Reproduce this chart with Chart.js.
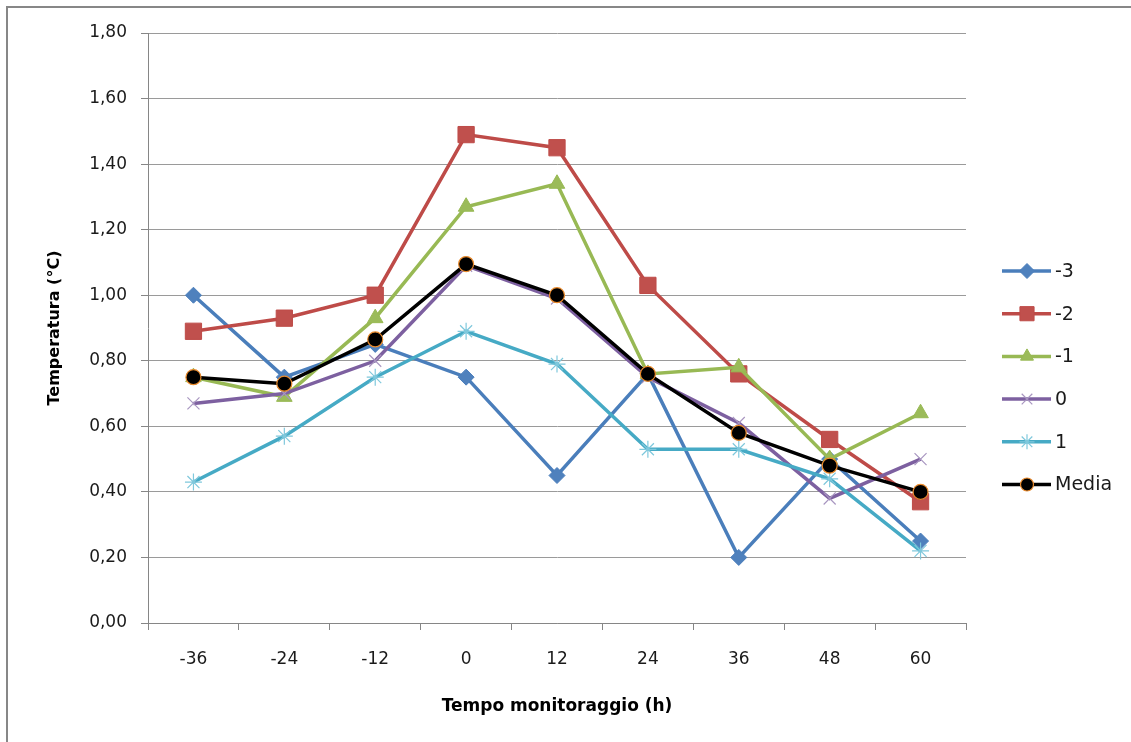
<!DOCTYPE html>
<html>
<head>
<meta charset="utf-8">
<script src="https://cdn.jsdelivr.net/npm/chart.js"></script>
<style>
  html, body { margin: 0; padding: 0; background: #fff; }
  canvas { display: block; }
</style>
</head>
<body>
<canvas id="chart" width="1131" height="742"></canvas>
<script>
// hours of monitoring (x categories)
const hours = ['-36', '-24', '-12', '0', '12', '24', '36', '48', '60'];

// temperature series (°C)
const serieM3 = [1.00, 0.75, 0.85, 0.75, 0.45, 0.76, 0.20, 0.50, 0.25];
const serieM2 = [0.89, 0.93, 1.00, 1.49, 1.45, 1.03, 0.76, 0.56, 0.37];
const serieM1 = [0.75, 0.69, 0.93, 1.27, 1.34, 0.76, 0.78, 0.50, 0.64];
const serie0  = [0.67, 0.70, 0.80, 1.09, 0.99, 0.75, 0.61, 0.38, 0.50];
const serie1  = [0.43, 0.57, 0.75, 0.89, 0.79, 0.53, 0.53, 0.44, 0.22];
const media   = [0.75, 0.73, 0.865, 1.095, 1.00, 0.76, 0.58, 0.48, 0.40];

const yTicks = [0, 0.2, 0.4, 0.6, 0.8, 1.0, 1.2, 1.4, 1.6, 1.8];

const FONT = 'DejaVu Sans';
const AXIS_GRAY = '#868686';

function series(label, data, color, style, opts) {
  return Object.assign({
    label, data,
    borderColor: color,
    backgroundColor: color,
    pointBackgroundColor: color,
    pointBorderColor: color,
    borderWidth: 3.5,
    pointStyle: style,
    pointRadius: 8,
    pointHoverRadius: 8,
    pointBorderWidth: 1,
    tension: 0,
    fill: false
  }, opts || {});
}

const datasets = [
  series('-3', serieM3, '#4A7EBB', 'rectRot', { pointRadius: 8, pointBackgroundColor: '#4F81BD', order: 6 }),
  series('-2', serieM2, '#BE4B48', 'rect', { pointRadius: 11.5, pointBackgroundColor: '#C0504D', order: 5 }),
  series('-1', serieM1, '#98B954', 'triangle', { pointRadius: 9, pointBackgroundColor: '#9BBB59', order: 4 }),
  series('0', serie0, '#7D60A0', 'crossRot', { pointRadius: 8.5, pointBorderColor: '#A896C0', pointBorderWidth: 1.2, order: 3 }),
  series('1', serie1, '#46AAC5', 'star', { pointRadius: 8.5, pointBorderColor: '#7FC8DC', pointBorderWidth: 1.2, order: 2 }),
  series('Media', media, '#000000', 'circle', { pointRadius: 7.5, pointBackgroundColor: '#000000', pointBorderColor: '#E98A2C', pointBorderWidth: 1.2, order: 1 })
];

// frame (top and left edges) and an Excel-like legend
const extras = {
  id: 'extras',
  afterDraw(chart) {
    const ctx = chart.ctx;
    ctx.save();
    ctx.strokeStyle = '#878787';
    ctx.lineWidth = 2;
    ctx.beginPath();
    ctx.moveTo(7, 742);
    ctx.lineTo(7, 7);
    ctx.lineTo(1131, 7);
    ctx.stroke();

    const x0 = 1002, x1 = 1051, xm = 1027, y0 = 271, dy = 42.7;
    chart.data.datasets.forEach((ds, i) => {
      const y = y0 + i * dy;
      ctx.strokeStyle = ds.borderColor;
      ctx.lineWidth = ds.borderWidth;
      ctx.beginPath();
      ctx.moveTo(x0, y);
      ctx.lineTo(x1, y);
      ctx.stroke();
      ctx.fillStyle = ds.pointBackgroundColor;
      ctx.strokeStyle = ds.pointBorderColor;
      ctx.lineWidth = ds.pointBorderWidth;
      const r = ds.pointStyle === 'rect' ? 10 : ds.pointStyle === 'circle' ? 6.5 : 7.5;
      if (Chart.helpers && Chart.helpers.drawPoint) {
        Chart.helpers.drawPoint(ctx, { pointStyle: ds.pointStyle, radius: r, borderWidth: ds.pointBorderWidth, rotation: 0 }, xm, y);
      }
      ctx.fillStyle = '#1a1a1a';
      ctx.font = '19px "' + FONT + '"';
      ctx.textAlign = 'left';
      ctx.textBaseline = 'middle';
      ctx.fillText(ds.label, 1055, y + 1);
    });
    ctx.restore();
  }
};

new Chart(document.getElementById('chart'), {
  type: 'line',
  data: { labels: hours, datasets },
  plugins: [extras],
  options: {
    responsive: false,
    animation: false,
    layout: { padding: { top: 33, right: 165, bottom: 0, left: 0 } },
    plugins: {
      legend: { display: false },
      tooltip: { enabled: false }
    },
    scales: {
      x: {
        type: 'category',
        offset: true,
        afterFit: (s) => { s.height = 119; },
        grid: {
          display: true,
          offset: true,
          drawOnChartArea: false,
          drawTicks: true,
          tickLength: 7,
          color: AXIS_GRAY
        },
        border: { display: true, color: AXIS_GRAY, width: 1 },
        ticks: {
          color: '#1a1a1a',
          font: { family: FONT, size: 17 },
          padding: 19,
          maxRotation: 0
        },
        title: {
          display: true,
          text: 'Tempo monitoraggio (h)',
          color: '#000',
          font: { family: FONT, size: 17, weight: 'bold' },
          padding: { top: 0, bottom: 25 }
        }
      },
      y: {
        min: 0,
        max: 1.8,
        afterFit: (s) => { s.width = 148; },
        afterBuildTicks: (s) => { s.ticks = yTicks.map(v => ({ value: v })); },
        grid: {
          color: '#9A9A9A',
          lineWidth: 1,
          drawTicks: true,
          tickLength: 7,
          tickColor: AXIS_GRAY
        },
        border: { display: true, color: AXIS_GRAY, width: 1 },
        ticks: {
          color: '#1a1a1a',
          font: { family: FONT, size: 17 },
          padding: 14,
          callback: (v) => Number(v).toFixed(2).replace('.', ',')
        },
        title: {
          display: true,
          text: 'Temperatura (°C)',
          color: '#000',
          font: { family: FONT, size: 16, weight: 'bold' },
          padding: { top: 45, bottom: 0 }
        }
      }
    }
  }
});
</script>
</body>
</html>
